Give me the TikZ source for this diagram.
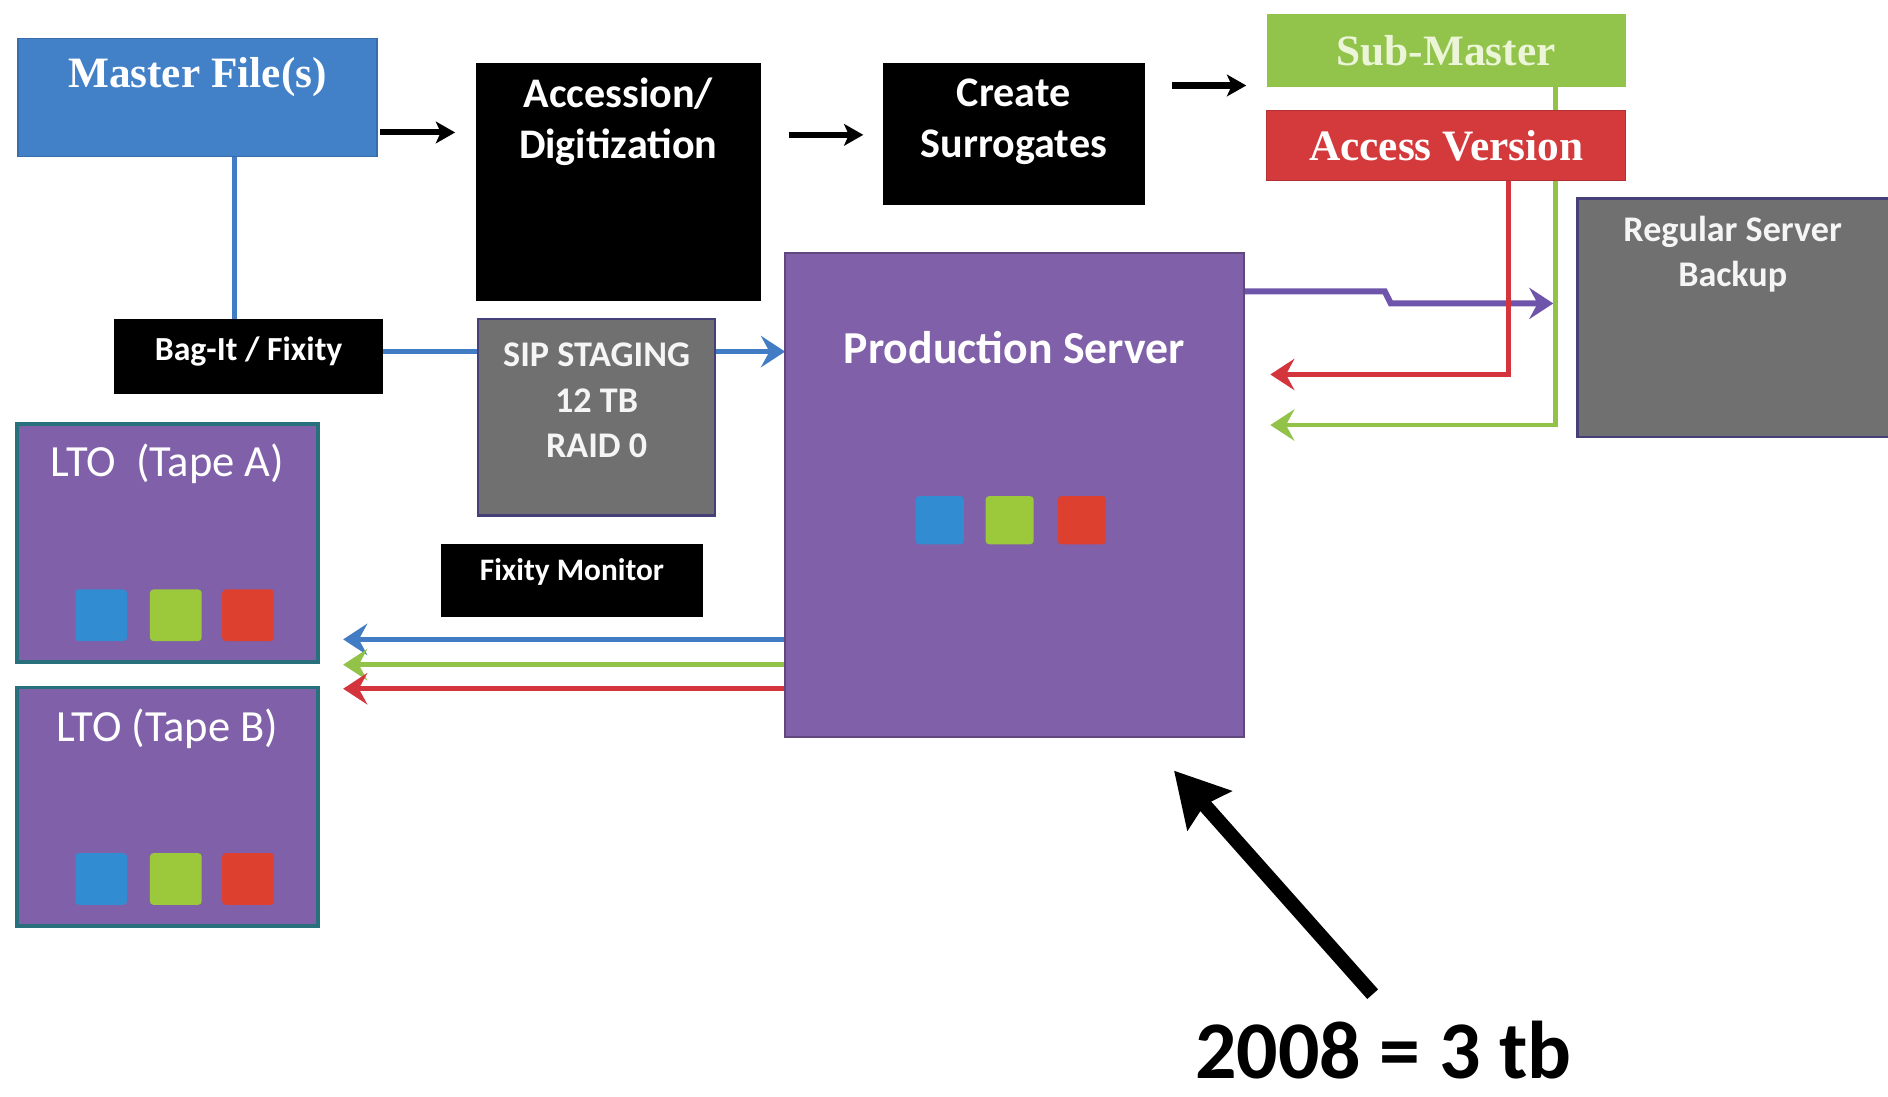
\documentclass[tikz,border=0pt]{standalone}
\usepackage{fontspec}
\setmainfont{Carlito}
\newfontfamily\titleserif{Liberation Serif}
\usetikzlibrary{positioning,arrows.meta,backgrounds}

\definecolor{masterblue}{RGB}{66,128,200}
\definecolor{subgreen}{RGB}{146,196,76}
\definecolor{accessred}{RGB}{212,58,60}
\definecolor{serverpurple}{RGB}{128,96,168}
\definecolor{stagegray}{RGB}{112,112,112}
\definecolor{tapeteal}{RGB}{40,112,124}
\definecolor{edgeviolet}{RGB}{70,64,120}
\definecolor{linkblue}{RGB}{66,124,196}
\definecolor{linkgreen}{RGB}{146,194,72}
\definecolor{linkred}{RGB}{212,52,60}
\definecolor{linkpurple}{RGB}{110,84,170}
\definecolor{chipblue}{RGB}{50,140,210}
\definecolor{chipgreen}{RGB}{156,200,60}
\definecolor{chipred}{RGB}{222,64,48}
\definecolor{paletext}{RGB}{236,245,215}

\begin{document}
\begin{tikzpicture}[x=1pt, y=1pt,
    box/.style={rectangle, anchor=north west, inner sep=0pt, outer sep=0pt},
    blackbox/.style={box, fill=black},
    graybox/.style={box, fill=stagegray, draw=edgeviolet, line width=2pt},
    tapebox/.style={box, fill=serverpurple, draw=tapeteal, line width=3pt},
    chip/.style={rectangle, inner sep=0pt, minimum size=#1, rounded corners=3pt},
    txt/.style 2 args={text=white, align=center, inner sep=0pt, font=\bfseries\fontsize{#1}{#2}\selectfont},
    serif/.style={text=white, inner sep=0pt, font=\titleserif\bfseries\fontsize{36}{40}\selectfont},
    flowarrow/.style={line width=5pt, -{Stealth[length=16pt, width=18pt, inset=4pt]}},
    link/.style={line width=4pt},
    linkarrow/.style={link, -{Stealth[length=20pt, width=26pt, inset=7pt]}},
    bigarrow/.style={line width=12pt, -{Stealth[length=44pt, width=48pt, inset=6pt]}}
]
\useasboundingbox (0,0) rectangle (1568,-911);

% boxes
\node (master) [box, fill=masterblue, draw=masterblue!85!black, line width=1.5pt, minimum width=298pt, minimum height=98pt] at (15,-32) {};
\node (acc) [blackbox, minimum width=237pt, minimum height=198pt] at (395,-52) {};
\node (create) [blackbox, minimum width=218pt, minimum height=118pt] at (733,-52) {};
\node (sub) [box, fill=subgreen, minimum width=298pt, minimum height=60pt] at (1052,-12) {};
\node (access) [box, fill=accessred, draw=accessred!85!black, line width=1pt, minimum width=298pt, minimum height=58pt] at (1052,-92) {};
\node (reg) [graybox, minimum width=262pt, minimum height=198pt] at (1310,-165) {};
\node (prod) [box, fill=serverpurple, draw=serverpurple!75!black, line width=2pt, minimum width=381pt, minimum height=402pt] at (652,-210) {};
\node (bagit) [blackbox, minimum width=223pt, minimum height=62pt] at (95,-265) {};
\node (sip) [graybox, minimum width=197pt, minimum height=163pt] at (397,-265) {};
\node (fixmon) [blackbox, minimum width=218pt, minimum height=60pt] at (366,-452) {};
\node (ltoA) [tapebox, minimum width=250pt, minimum height=198pt] at (14,-352) {};
\node (ltoB) [tapebox, minimum width=250pt, minimum height=198pt] at (14,-571) {};

% texts
\node (master-t) [serif] at ([yshift=17pt]master.center) {Master File(s)};
\node (acc-t) [txt={35}{42}] at ([yshift=50pt]acc.center) {Accession/\\Digitization};
\node (create-t) [txt={35}{42}] at ([yshift=10pt]create.center) {Create\\Surrogates};
\node (sub-t) [serif, text=paletext] at (sub.center) {Sub-Master};
\node (access-t) [serif] at (access.center) {Access Version};
\node (reg-t) [txt={30}{37}, text=white!92!gray] at ([shift={(-2,53)}]reg.center) {Regular Server\\Backup};
\node (prod-t) [txt={38}{44}] at ([yshift=122pt]prod.center) {Production Server};
\node (bagit-t) [txt={28}{32}] at ([yshift=4pt]bagit.center) {Bag-It / Fixity};
\node (sip-t) [txt={30}{38}, text=white!92!gray] at ([yshift=14pt]sip.center) {SIP STAGING\\12 TB\\RAID 0};
\node (fixmon-t) [txt={26}{30}] at ([yshift=7pt]fixmon.center) {Fixity Monitor};
\node (ltoA-t) [txt={37}{42}, font=\mdseries\fontsize{37}{42}\selectfont] at ([yshift=66pt]ltoA.center) {LTO\ \ (Tape A)};
\node (ltoB-t) [txt={37}{42}, font=\mdseries\fontsize{37}{42}\selectfont] at ([yshift=65pt]ltoB.center) {LTO (Tape B)};
\node (year) [inner sep=0pt, font=\bfseries\fontsize{68}{78}\selectfont] at (1149,-872) {2008 = 3 tb};

% coloured chips
\foreach \c/\dx in {chipblue/-62, chipgreen/-4, chipred/56}
  \node (prod-\c) [chip=40pt, fill=\c] at ([shift={(\dx,-21)}]prod.center) {};
\foreach \t in {ltoA, ltoB}
  \foreach \c/\dx in {chipblue/-55, chipgreen/7, chipred/67}
    \node (\t-\c) [chip=43pt, fill=\c] at ([shift={(\dx,-60)}]\t.center) {};

% connectors
\begin{scope}[on background layer]
  \coordinate (m-out) at ([yshift=-29pt]master.east);
  \draw[flowarrow, shorten <=3pt, shorten >=17pt] (m-out) -- (m-out -| acc.west);
  \coordinate (a-out) at ([yshift=39pt]acc.east);
  \draw[flowarrow, shorten <=23pt, shorten >=16pt] (a-out) -- (a-out -| create.west);
  \coordinate (c-out) at ([yshift=40pt]create.east);
  \draw[flowarrow, shorten <=22pt, shorten >=17pt] (c-out) -- (c-out -| sub.west);

  \coordinate (m-down) at ([xshift=31pt]master.south);
  \draw[link, linkblue] (m-down) -- (m-down |- bagit.north);
  \coordinate (b-out) at ([yshift=4pt]bagit.east);
  \draw[link, linkblue] (b-out) -- (b-out -| sip.west);
  \draw[linkarrow, linkblue] (b-out -| sip.east) -- (b-out -| prod.west);

  \coordinate (p-out) at ([yshift=169pt]prod.east);
  \path (p-out -| reg.west) ++(0,-10) coordinate (p-in);
  \draw[linkarrow, linkpurple, line width=5pt, shorten >=20pt] (p-out) -- ++(117,0) -- ++(5,-10) -- (p-in);

  \coordinate (r-down) at ([xshift=52pt]access.south);
  \draw[linkarrow, linkred, shorten >=22pt] (r-down) |- ([yshift=100pt]prod.east);
  \coordinate (g-down) at ([xshift=91pt]sub.south);
  \draw[linkarrow, linkgreen, shorten >=22pt] (g-down) |- ([yshift=58pt]prod.east);

  \foreach \dy/\c in {-120/linkblue, -141/linkgreen, -161/linkred} {
    \coordinate (t-\c) at ([shift={(0,\dy)}]prod.west);
    \draw[linkarrow, \c, shorten >=21pt] (t-\c) -- (t-\c -| ltoA.east);
  }

  \draw[bigarrow] ([shift={(-9,22)}]year.north) -- ([shift={(-58,-28)}]prod.south east);
\end{scope}
\end{tikzpicture}
\end{document}
